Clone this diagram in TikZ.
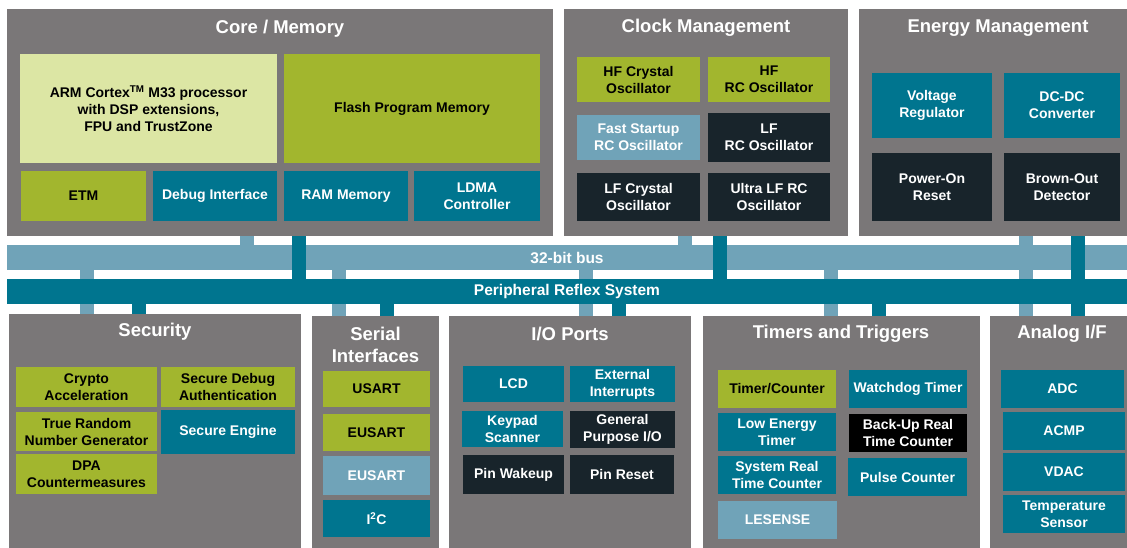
\documentclass[tikz,border=0pt]{standalone}
\usepackage{fontspec}
\setsansfont{Liberation Sans}
\usetikzlibrary{backgrounds}
\definecolor{sgrey}{HTML}{7A7778}
\definecolor{steal}{HTML}{00758F}
\definecolor{sblue}{HTML}{70A3B8}
\definecolor{sgreen}{HTML}{A2B62E}
\definecolor{slime}{HTML}{DCE6A4}
\definecolor{sdark}{HTML}{18242B}
\tikzset{
  sz/.style 2 args={minimum width=#1pt, minimum height=#2pt},
  panel/.style={fill=sgrey},
  title/.style={text=white, font=\sffamily\bfseries\fontsize{18.5}{22}\selectfont},
  box/.style={fill=#1, text=white, font=\sffamily\bfseries\fontsize{14}{17}\selectfont},
  gbox/.style={fill=#1, text=black, font=\sffamily\bfseries\fontsize{14}{17}\selectfont},
  busbox/.style={fill=#1, text=white, font=\sffamily\bfseries\fontsize{15.5}{18}\selectfont},
  lstub/.style={draw=sblue, line width=14pt},
  tstub/.style={draw=steal, line width=14pt}
}
\begin{document}
\begin{tikzpicture}[x=1pt, y=-1pt, every node/.style={align=center, inner sep=1pt}]

	\useasboundingbox (0,0) rectangle (1127,548);

	% panels
	\node[panel, sz={546}{227}] (core) at (280,122.5) {};
	\node[panel, sz={284}{227}] (clock) at (706,122.5) {};
	\node[panel, sz={268}{227}] (energy) at (993,122.5) {};
	\node[panel, sz={292}{234}] (sec) at (155,431) {};
	\node[panel, sz={127}{232}] (serial) at (375.5,432) {};
	\node[panel, sz={242}{232}] (io) at (570,432) {};
	\node[panel, sz={277}{232}] (timers) at (841.5,432) {};
	\node[panel, sz={137}{232}] (analog) at (1058.5,432) {};

	\node[title] (coretitle) at (280,28.5) {Core / Memory};
	\node[title] (clocktitle) at (706,27.5) {Clock Management};
	\node[title] (energytitle) at (998,28.5) {Energy Management};
	\node[title] (sectitle) at (155,332) {Security};
	\node[title] (serialtitle) at (375.5,345) {Serial\\Interfaces};
	\node[title] (iotitle) at (570,334) {I/O Ports};
	\node[title] (timerstitle) at (841,334) {Timers and Triggers};
	\node[title] (analogtitle) at (1062,334) {Analog I/F};

	% buses
	\node[busbox=sblue, sz={1120}{25}] (bus) at (567,257.5) {32-bit bus};
	\node[busbox=steal, sz={1120}{25}] (prs) at (567,291.5) {Peripheral Reflex System};

	\begin{scope}[on background layer]
		\draw[lstub] (247,0 |- core.south) -- (247,0 |- bus.north);
		\draw[lstub] (685,0 |- clock.south) -- (685,0 |- bus.north);
		\draw[lstub] (1026,0 |- energy.south) -- (1026,0 |- analog.north);
		\draw[lstub] (87,0 |- bus.south) -- (87,0 |- sec.north);
		\draw[lstub] (339,0 |- bus.south) -- (339,0 |- serial.north);
		\draw[lstub] (586,0 |- bus.south) -- (586,0 |- io.north);
		\draw[lstub] (831,0 |- bus.south) -- (831,0 |- timers.north);
	\end{scope}
	\draw[tstub] (299,0 |- core.south) -- (299,0 |- prs.north);
	\draw[tstub] (720,0 |- clock.south) -- (720,0 |- prs.north);
	\draw[tstub] (1078,0 |- energy.south) -- (1078,0 |- analog.north);
	\draw[tstub] (139,0 |- prs.south) -- (139,0 |- sec.north);
	\draw[tstub] (387,0 |- prs.south) -- (387,0 |- serial.north);
	\draw[tstub] (619,0 |- prs.south) -- (619,0 |- io.north);
	\draw[tstub] (879,0 |- prs.south) -- (879,0 |- timers.north);

	% core / memory
	\node[gbox=slime, sz={257}{109}] (cpu) at (148.5,108.5) {ARM Cortex\textsuperscript{TM} M33 processor\\with DSP extensions,\\FPU and TrustZone};
	\node[gbox=sgreen, sz={256}{109}] (flash) at (412,108.5) {Flash Program Memory};
	\node[gbox=sgreen, sz={125}{50}] (etm) at (83.5,196) {ETM};
	\node[box=steal, sz={124}{50}] (debug) at (215,196) {Debug Interface};
	\node[box=steal, sz={124}{50}] (ram) at (346,196) {RAM Memory};
	\node[box=steal, sz={126}{50}] (ldma) at (477,196) {LDMA\\Controller};

	% clock management
	\node[gbox=sgreen, sz={123}{45}] (hfxo) at (638.5,79.5) {HF Crystal\\Oscillator};
	\node[gbox=sgreen, sz={122}{45}] (hfrco) at (769,79.5) {HF\\RC Oscillator};
	\node[box=sblue, sz={123}{45}] (fsrco) at (638.5,137.5) {Fast Startup\\RC Oscillator};
	\node[box=sdark, sz={122}{49}] (lfrco) at (769,137.5) {LF\\RC Oscillator};
	\node[box=sdark, sz={123}{48}] (lfxo) at (638.5,197) {LF Crystal\\Oscillator};
	\node[box=sdark, sz={122}{48}] (ulfrco) at (769,197) {Ultra LF RC\\Oscillator};

	% energy management
	\node[box=steal, sz={120}{65}] (vreg) at (932,105.5) {Voltage\\Regulator};
	\node[box=steal, sz={116}{65}] (dcdc) at (1062,105.5) {DC-DC\\Converter};
	\node[box=sdark, sz={120}{68}] (por) at (932,187) {Power-On\\Reset};
	\node[box=sdark, sz={116}{68}] (bod) at (1062,187) {Brown-Out\\Detector};

	% security
	\node[gbox=sgreen, sz={141}{40}] (crypto) at (86.5,387) {Crypto\\Acceleration};
	\node[gbox=sgreen, sz={134}{40}] (sdbg) at (228,387) {Secure Debug\\Authentication};
	\node[gbox=sgreen, sz={141}{39}] (trng) at (86.5,431.5) {True Random\\Number Generator};
	\node[box=steal, sz={134}{44}] (se) at (228,432) {Secure Engine};
	\node[gbox=sgreen, sz={141}{40}] (dpa) at (86.5,474) {DPA\\Countermeasures};

	% serial interfaces
	\node[gbox=sgreen, sz={107}{36}] (usart) at (376.5,389) {USART};
	\node[gbox=sgreen, sz={107}{37}] (eusarta) at (376.5,432.5) {EUSART};
	\node[box=sblue, sz={107}{39}] (eusartb) at (376.5,475.5) {EUSART};
	\node[box=steal, sz={107}{37}] (i2c) at (376.5,518.5) {I\textsuperscript{2}C};

	% i/o ports
	\node[box=steal, sz={101}{36}] (lcd) at (513.5,384) {LCD};
	\node[box=steal, sz={105}{36}] (extint) at (622.5,384) {External\\Interrupts};
	\node[box=steal, sz={101}{36}] (keypad) at (512.5,429) {Keypad\\Scanner};
	\node[box=sdark, sz={105}{37}] (gpio) at (622.5,429.5) {General\\Purpose I/O};
	\node[box=sdark, sz={101}{39}] (pinwake) at (513.5,474.5) {Pin Wakeup};
	\node[box=sdark, sz={104}{39}] (pinreset) at (622,474.5) {Pin Reset};

	% timers and triggers
	\node[gbox=sgreen, sz={118}{38}] (timer) at (777,389) {Timer/Counter};
	\node[box=steal, sz={118}{38}] (wdog) at (908,389) {Watchdog Timer};
	\node[box=steal, sz={118}{38}] (letimer) at (777,432) {Low Energy\\Timer};
	\node[box=black, sz={118}{38}] (burtc) at (908,433) {Back-Up Real\\Time Counter};
	\node[box=steal, sz={118}{38}] (sysrtc) at (777,475) {System Real\\Time Counter};
	\node[box=steal, sz={119}{38}] (pcnt) at (907.5,477) {Pulse Counter};
	\node[box=sblue, sz={119}{38}] (lesense) at (777.5,520) {LESENSE};

	% analog
	\node[box=steal, sz={123}{38}] (adc) at (1062.5,389) {ADC};
	\node[box=steal, sz={122}{38}] (acmp) at (1064,431) {ACMP};
	\node[box=steal, sz={122}{38}] (vdac) at (1064,472) {VDAC};
	\node[box=steal, sz={122}{38}] (temp) at (1064,514) {Temperature\\Sensor};
\end{tikzpicture}
\end{document}
